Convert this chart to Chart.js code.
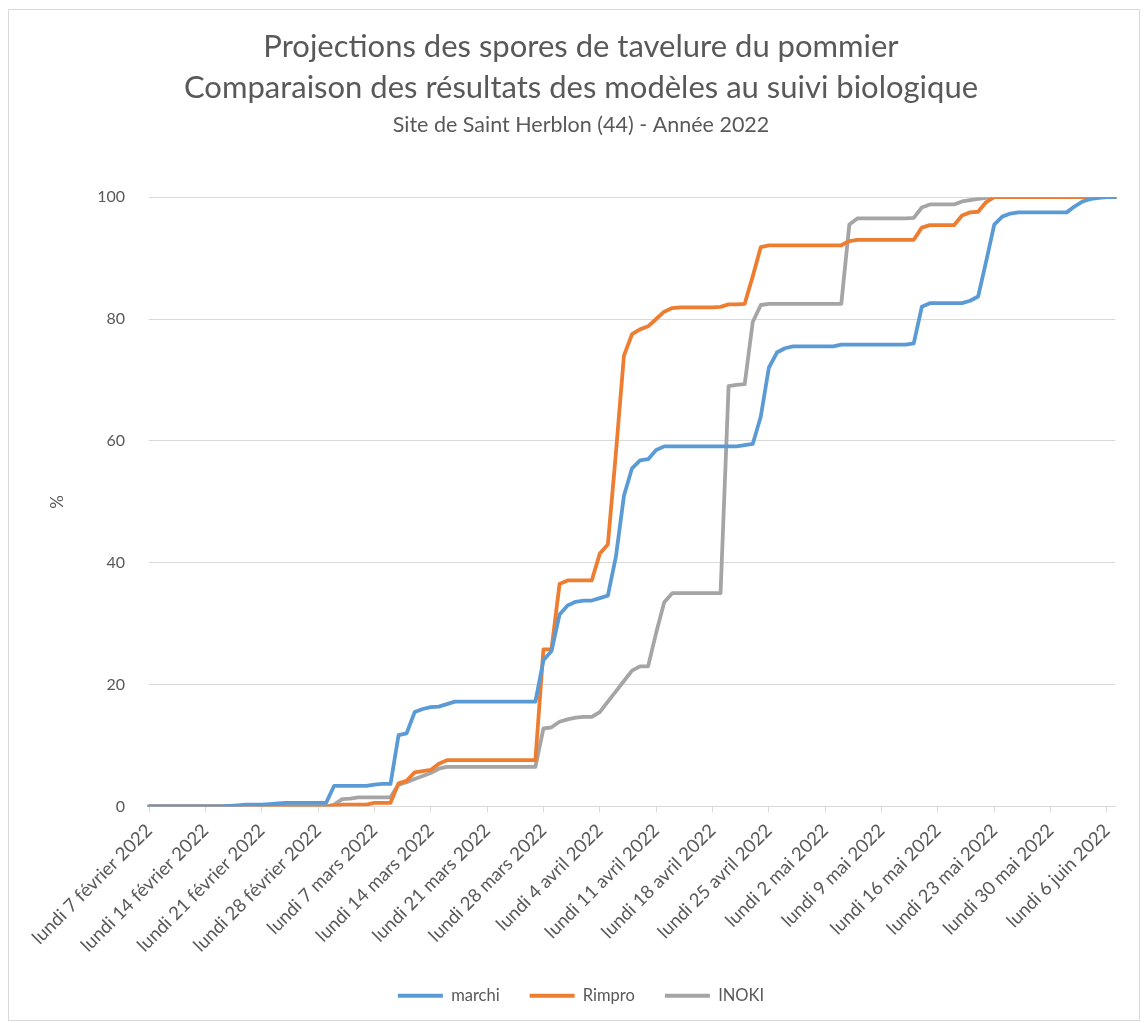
<!DOCTYPE html>
<html lang="fr">
<head>
<meta charset="utf-8">
<script src="https://cdn.jsdelivr.net/npm/chart.js@4.4.1/dist/chart.umd.min.js"></script>
<style>
  html, body { margin: 0; padding: 0; background: #ffffff; }
  #wrap {
    position: absolute;
    left: 8px;
    top: 9px;
    width: 1130px;
    height: 1010px;
    border: 1px solid #d9d9d9;
  }
</style>
</head>
<body>
<div id="wrap"><canvas id="sporesChart" width="1130" height="1010"></canvas></div>
<script>
// one value per day, from lundi 7 février 2022 to mardi 7 juin 2022
const startDate = new Date(2022, 1, 7);
const nbDays = 121;

const weekLabels = [
  "lundi 7 février 2022", "lundi 14 février 2022", "lundi 21 février 2022",
  "lundi 28 février 2022", "lundi 7 mars 2022", "lundi 14 mars 2022",
  "lundi 21 mars 2022", "lundi 28 mars 2022", "lundi 4 avril 2022",
  "lundi 11 avril 2022", "lundi 18 avril 2022", "lundi 25 avril 2022",
  "lundi 2 mai 2022", "lundi 9 mai 2022", "lundi 16 mai 2022",
  "lundi 23 mai 2022", "lundi 30 mai 2022", "lundi 6 juin 2022"
];

const marchi = [
  0, 0, 0, 0, 0, 0, 0, 0, 0, 0,                                 // 7-16 fév
  0.1, 0.2, 0.3, 0.3, 0.3, 0.4, 0.5, 0.6, 0.6, 0.6,             // 17-26 fév
  0.6, 0.6, 0.6, 3.4, 3.4, 3.4, 3.4, 3.4, 3.6, 3.7,             // 27 fév - 8 mars
  3.7, 11.7, 12.0, 15.5, 16.0, 16.3, 16.4, 16.8, 17.2, 17.2,    // 9-18 mars
  17.2, 17.2, 17.2, 17.2, 17.2, 17.2, 17.2, 17.2, 17.2, 24.0,   // 19-28 mars
  25.5, 31.5, 33.0, 33.6, 33.8, 33.8, 34.2, 34.6, 41.0, 51.0,   // 29 mars - 7 avr
  55.5, 56.8, 57.0, 58.5, 59.1, 59.1, 59.1, 59.1, 59.1, 59.1,   // 8-17 avr
  59.1, 59.1, 59.1, 59.1, 59.3, 59.5, 64.0, 72.0, 74.5, 75.2,   // 18-27 avr
  75.5, 75.5, 75.5, 75.5, 75.5, 75.5, 75.8, 75.8, 75.8, 75.8,   // 28 avr - 7 mai
  75.8, 75.8, 75.8, 75.8, 75.8, 76.0, 82.0, 82.6, 82.6, 82.6,   // 8-17 mai
  82.6, 82.6, 83.0, 83.7, 89.5, 95.5, 96.8, 97.3, 97.5, 97.5,   // 18-27 mai
  97.5, 97.5, 97.5, 97.5, 97.5, 98.5, 99.3, 99.7, 99.9, 100,    // 28 mai - 6 juin
  100
];

const rimpro = [
  0, 0, 0, 0, 0, 0, 0, 0, 0, 0,
  0, 0, 0, 0, 0, 0, 0, 0, 0, 0,
  0, 0, 0, 0.1, 0.3, 0.3, 0.3, 0.3, 0.6, 0.6,
  0.6, 3.8, 4.2, 5.6, 5.8, 6.0, 7.0, 7.6, 7.6, 7.6,
  7.6, 7.6, 7.6, 7.6, 7.6, 7.6, 7.6, 7.6, 7.6, 25.8,
  25.8, 36.5, 37.1, 37.1, 37.1, 37.1, 41.5, 43.0, 58.0, 74.0,
  77.5, 78.3, 78.8, 80.0, 81.2, 81.8, 81.9, 81.9, 81.9, 81.9,
  81.9, 82.0, 82.4, 82.4, 82.5, 87.0, 91.8, 92.1, 92.1, 92.1,
  92.1, 92.1, 92.1, 92.1, 92.1, 92.1, 92.1, 92.8, 93.0, 93.0,
  93.0, 93.0, 93.0, 93.0, 93.0, 93.0, 95.0, 95.4, 95.4, 95.4,
  95.4, 97.0, 97.5, 97.6, 99.2, 100, 100, 100, 100, 100,
  100, 100, 100, 100, 100, 100, 100, 100, 100, 100,
  100
];

const inoki = [
  0, 0, 0, 0, 0, 0, 0, 0, 0, 0,
  0, 0, 0, 0, 0, 0, 0, 0, 0, 0,
  0, 0, 0, 0.3, 1.2, 1.3, 1.5, 1.5, 1.5, 1.5,
  1.5, 3.6, 4.0, 4.5, 5.0, 5.5, 6.2, 6.5, 6.5, 6.5,
  6.5, 6.5, 6.5, 6.5, 6.5, 6.5, 6.5, 6.5, 6.5, 12.8,
  13.0, 13.9, 14.3, 14.6, 14.7, 14.7, 15.5, 17.2, 18.9, 20.6,
  22.3, 23.0, 23.0, 28.5, 33.5, 35.0, 35.0, 35.0, 35.0, 35.0,
  35.0, 35.0, 69.0, 69.2, 69.3, 79.5, 82.3, 82.5, 82.5, 82.5,
  82.5, 82.5, 82.5, 82.5, 82.5, 82.5, 82.5, 95.5, 96.5, 96.5,
  96.5, 96.5, 96.5, 96.5, 96.5, 96.6, 98.3, 98.8, 98.8, 98.8,
  98.8, 99.3, 99.5, 99.7, 99.9, 100, 100, 100, 100, 100,
  100, 100, 100, 100, 100, 100, 100, 100, 100, 100,
  100
];

const yTicks = [0, 20, 40, 60, 80, 100];

const days = [];
for (let i = 0; i < nbDays; i++) {
  const d = new Date(startDate);
  d.setDate(d.getDate() + i);
  days.push(d.toLocaleDateString("fr-FR"));
}

const textColor = "#595959";
const gridColor = "#d9d9d9";
const fontFamily = "Lato, 'Open Sans', sans-serif";

const ctx = document.getElementById("sporesChart").getContext("2d");

new Chart(ctx, {
  type: "line",
  data: {
    labels: days,
    datasets: [
      { label: "marchi", data: marchi, borderColor: "#5b9bd5", backgroundColor: "#5b9bd5" },
      { label: "Rimpro", data: rimpro, borderColor: "#ed7d31", backgroundColor: "#ed7d31" },
      { label: "INOKI", data: inoki, borderColor: "#a5a5a5", backgroundColor: "#a5a5a5" },
    ],
  },
  options: {
    responsive: false,
    animation: false,
    layout: { padding: { left: 38, right: 24, top: 0, bottom: 6 } },
    elements: {
      // point border width is only used by the legend line samples
      point: { radius: 0, borderWidth: 3.8 },
      line: { borderWidth: 3.8, tension: 0, borderJoinStyle: "round", borderCapStyle: "round" },
    },
    plugins: {
      title: {
        display: true,
        text: [
          "Projections des spores de tavelure du pommier",
          "Comparaison des résultats des modèles au suivi biologique",
        ],
        color: textColor,
        font: { family: fontFamily, size: 31, weight: "normal", lineHeight: 1.32 },
        padding: { top: 17, bottom: 0 },
      },
      subtitle: {
        display: true,
        text: "Site de Saint Herblon (44) - Année 2022",
        color: textColor,
        font: { family: fontFamily, size: 21.5, weight: "normal", lineHeight: 1.2 },
        padding: { top: 3.5, bottom: 59 },
      },
      legend: {
        position: "bottom",
        labels: {
          color: textColor,
          font: { family: fontFamily, size: 16.5 },
          usePointStyle: true,
          pointStyle: "line",
          pointStyleWidth: 45,
          boxHeight: 15,
          padding: 30,
        },
      },
      tooltip: { enabled: false },
    },
    scales: {
      x: {
        type: "category",
        offset: false,
        grid: {
          drawOnChartArea: false,
          drawTicks: true,
          tickLength: 6,
          color: (c) => (c.index % 7 === 0 ? gridColor : "rgba(0,0,0,0)"),
        },
        border: { color: gridColor, width: 1 },
        ticks: {
          autoSkip: false,
          maxRotation: 45,
          minRotation: 45,
          padding: 7,
          color: textColor,
          font: { family: fontFamily, size: 18.5 },
          callback: (value, index) => (index % 7 === 0 ? weekLabels[index / 7] : ""),
        },
        afterFit: (scale) => { scale.height = 151; },
      },
      y: {
        min: 0,
        max: 100,
        afterBuildTicks: (scale) => { scale.ticks = yTicks.map((v) => ({ value: v })); },
        grid: { color: gridColor, drawTicks: false },
        border: { display: false },
        ticks: {
          padding: 24,
          color: textColor,
          font: { family: fontFamily, size: 16 },
        },
        title: {
          display: true,
          text: "%",
          color: textColor,
          font: { family: fontFamily, size: 17 },
          padding: { top: 0, bottom: 0 },
        },
        afterFit: (scale) => { scale.width = 102; },
      },
    },
  },
});
</script>
</body>
</html>
